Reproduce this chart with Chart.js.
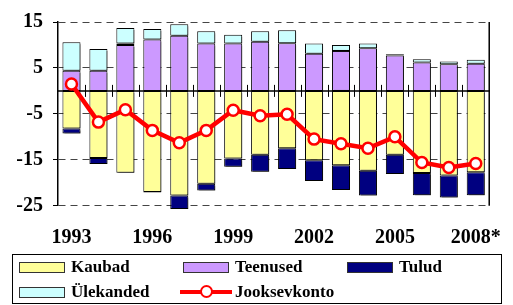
<!DOCTYPE html>
<html>
<head>
<meta charset="utf-8">
<script src="https://cdn.jsdelivr.net/npm/chart.js@4/dist/chart.umd.min.js"></script>
<style>
  body { margin: 0; background: #fff; }
  #wrap { position: relative; width: 513px; height: 305px; }
  #legend { position: absolute; left: 12px; top: 254px; width: 488px; height: 48px;
            border: 1px solid #000; font: bold 17px "Liberation Serif", serif; color: #000; }
  .item { position: absolute; height: 22px; line-height: 22px; }
  .sw { position: absolute; left: 0; top: 6px; width: 44px; height: 9px; border: 1px solid #333; }
  .lbl { position: absolute; left: 52px; top: 0; white-space: nowrap; }
  .ln { position: absolute; left: 0; top: 9px; width: 52px; height: 4px; background: #f00; }
  .dot { position: absolute; left: 20px; top: 4px; width: 9px; height: 9px; border: 2.5px solid #f00;
         border-radius: 50%; background: #fff; }
</style>
</head>
<body>
<div id="wrap">
  <canvas id="bilanss" width="513" height="305"></canvas>
  <div id="legend">
    <div class="item" style="left:6px;top:1px"><div class="sw" style="background:#FFFF99"></div><span class="lbl">Kaubad</span></div>
    <div class="item" style="left:170px;top:1px"><div class="sw" style="background:#CC99FF"></div><span class="lbl">Teenused</span></div>
    <div class="item" style="left:334px;top:1px"><div class="sw" style="background:#000080"></div><span class="lbl">Tulud</span></div>
    <div class="item" style="left:6px;top:26px"><div class="sw" style="background:#CCFFFF"></div><span class="lbl">Ülekanded</span></div>
    <div class="item" style="left:167px;top:26px"><div class="ln"></div><div class="dot"></div><span class="lbl" style="left:55px">Jooksevkonto</span></div>
  </div>
</div>
<script>
const aastad = ['1993', '1994', '1995', '1996', '1997', '1998', '1999', '2000',
                '2001', '2002', '2003', '2004', '2005', '2006', '2007', '2008*'];
const kaubad = [-8.2, -14.6, -17.8, -22.0, -22.8, -20.2, -14.7, -13.9, -12.5, -15.1, -16.2, -17.4, -13.9, -17.9, -18.4, -17.7];
const teenused = [4.4, 4.4, 10.0, 11.2, 12.0, 10.3, 10.3, 10.7, 10.4, 8.1, 8.7, 9.3, 7.7, 6.2, 5.8, 5.9];
const tulud = [-1.1, -1.3, 0.3, -0.1, -2.9, -1.5, -1.8, -3.7, -4.5, -4.5, -5.4, -5.4, -4.2, -4.8, -4.8, -5.0];
const ylekanded = [6.2, 4.7, 3.4, 2.3, 2.5, 2.7, 1.9, 2.3, 2.8, 2.2, 1.3, 1.0, 0.3, 0.7, 0.6, 0.9];
const jooksevkonto = [1.5, -6.8, -4.1, -8.6, -11.3, -8.6, -4.2, -5.4, -5.1, -10.5, -11.5, -12.5, -10.0, -15.6, -16.7, -15.8];
const yTicks = [15, 5, -5, -15, -25];

const serif = '"Liberation Serif", "Times New Roman", serif';

// vari tulpadele + raam ja nullijoon
const raam = {
    id: 'raam',
    beforeDatasetsDraw(chart) {
        const { ctx, chartArea: a, scales: { x, y } } = chart;
        const y0 = y.getPixelForValue(0);
        ctx.save();
        ctx.strokeStyle = '#000';
        ctx.lineWidth = 1.5;
        ctx.beginPath();
        ctx.moveTo(a.right, a.top);
        ctx.lineTo(a.right, a.bottom);
        ctx.moveTo(a.left, y0);
        ctx.lineTo(a.right, y0);
        ctx.stroke();
        ctx.lineWidth = 1;
        ctx.beginPath();
        for (let i = 1; i < aastad.length; i++) {
            const px = Math.round((x.getPixelForValue(i - 1) + x.getPixelForValue(i)) / 2) + 0.5;
            ctx.moveTo(px, y0 - 6);
            ctx.lineTo(px, y0 + 6);
        }
        ctx.stroke();
        ctx.restore();
    },
    beforeDatasetDraw(chart, args) {
        if (args.meta.type !== 'bar') return;
        const ctx = chart.ctx;
        ctx.save();
        ctx.shadowColor = 'rgba(0,0,0,0.45)';
        ctx.shadowOffsetX = 2;
        ctx.shadowOffsetY = 2;
        ctx.shadowBlur = 0;
    },
    afterDatasetDraw(chart, args) {
        if (args.meta.type === 'bar') chart.ctx.restore();
    }
};

const tulp = {
    type: 'bar',
    borderColor: '#000',
    borderWidth: 1,
    borderSkipped: false,
    barPercentage: 0.67,
    categoryPercentage: 1,
    clip: false,
    order: 1
};

new Chart(document.getElementById('bilanss'), {
    data: {
        labels: aastad,
        datasets: [
            { ...tulp, label: 'Kaubad', data: kaubad, backgroundColor: '#FFFF99' },
            { ...tulp, label: 'Teenused', data: teenused, backgroundColor: '#CC99FF' },
            { ...tulp, label: 'Tulud', data: tulud, backgroundColor: '#000080' },
            { ...tulp, label: 'Ülekanded', data: ylekanded, backgroundColor: '#CCFFFF' },
            {
                type: 'line',
                label: 'Jooksevkonto',
                data: jooksevkonto,
                stack: 'joon',
                borderColor: '#FF0000',
                borderWidth: 4.5,
                pointRadius: 5.5,
                pointBorderWidth: 2.5,
                pointBackgroundColor: '#fff',
                pointBorderColor: '#FF0000',
                tension: 0,
                order: 0
            }
        ]
    },
    options: {
        responsive: false,
        animation: false,
        layout: { padding: { left: 0, right: 0, top: 3, bottom: 48.3 } },
        plugins: {
            legend: { display: false },
            tooltip: { enabled: false }
        },
        scales: {
            x: {
                stacked: true,
                grid: { display: false },
                border: { display: false },
                ticks: {
                    autoSkip: false,
                    maxRotation: 0,
                    padding: 12,
                    color: '#000',
                    font: { family: serif, size: 20, weight: 'bold' },
                    callback: (v, i) => (i % 3 === 0 ? aastad[i] : '')
                },
                afterFit: s => { s.height = 51; }
            },
            y: {
                stacked: true,
                min: -25,
                max: 15,
                grid: { color: '#444', lineWidth: 1, tickLength: 5, tickColor: '#000' },
                border: { display: true, color: '#000', width: 1.5, dash: [7, 5] },
                ticks: {
                    stepSize: 5,
                    padding: 10,
                    color: '#000',
                    font: { family: serif, size: 20, weight: 'bold' },
                    callback: v => (yTicks.includes(v) ? String(v) : '')
                },
                afterFit: s => { s.width = 58; }
            }
        }
    },
    plugins: [raam]
});
</script>
</body>
</html>
